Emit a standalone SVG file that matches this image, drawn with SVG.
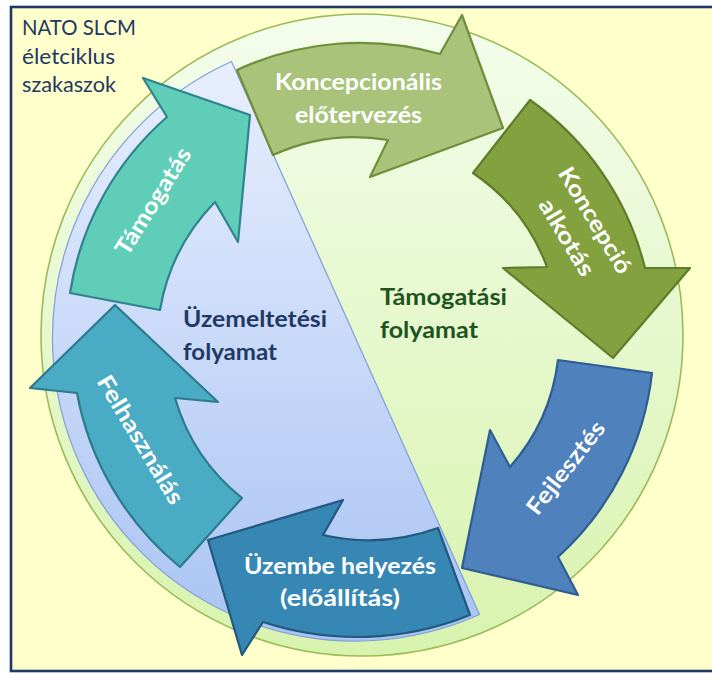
<svg xmlns="http://www.w3.org/2000/svg" width="712" height="673" viewBox="0 0 712 673">
  <defs>
    <linearGradient id="ringFill" x1="0" y1="0" x2="0" y2="1">
      <stop offset="0" stop-color="#F4FDEC"/>
      <stop offset="1" stop-color="#D8F3AE"/>
    </linearGradient>
    <linearGradient id="opsFill" x1="0" y1="0" x2="0" y2="1">
      <stop offset="0" stop-color="#E8EFFE"/>
      <stop offset="1" stop-color="#A9C3F3"/>
    </linearGradient>
  </defs>
  <style>
    .arrow { stroke-width: 2.2; stroke-linejoin: round; }
    .label { font-family: "Lato", "Liberation Sans", sans-serif; font-weight: bold; font-size: 23px; fill: #FFFFFF; text-anchor: middle; }
    .title { font-family: "Lato", "Liberation Sans", sans-serif; font-size: 21px; fill: #1F3864; }
    .phase { font-family: "Lato", "Liberation Sans", sans-serif; font-weight: bold; font-size: 23px; }
  </style>

  <!-- frame -->
  <rect x="0" y="0" width="712" height="673" fill="#FFFFFF"/>
  <rect x="11" y="7" width="720" height="664" fill="#FFFFCC" stroke="#1F3864" stroke-width="2.6"/>

  <!-- life-cycle disc -->
  <g id="cycle-disc">
    <circle cx="362" cy="335" r="321" fill="url(#ringFill)" stroke="#9BBB59" stroke-width="1.6"/>
    <path id="ops-segment" d="M 231.5,61.5 A 303 303 0 0 0 479.5,614.5 Z" fill="url(#opsFill)" stroke="#7F9FD6" stroke-width="1.2"/>
  </g>

  <!-- title -->
  <g id="title">
    <text class="title" x="22" y="35" textLength="114" lengthAdjust="spacingAndGlyphs">NATO SLCM</text>
    <text class="title" x="22" y="64" textLength="93" lengthAdjust="spacingAndGlyphs">életciklus</text>
    <text class="title" x="22" y="92" textLength="94" lengthAdjust="spacingAndGlyphs">szakaszok</text>
  </g>

  <!-- process labels -->
  <g id="ops-process">
    <text class="phase" x="183" y="327" fill="#1F3864" textLength="144" lengthAdjust="spacingAndGlyphs">Üzemeltetési</text>
    <text class="phase" x="183" y="360" fill="#1F3864" textLength="94" lengthAdjust="spacingAndGlyphs">folyamat</text>
  </g>
  <g id="support-process">
    <text class="phase" x="380" y="305" fill="#1D5420" textLength="127" lengthAdjust="spacingAndGlyphs">Támogatási</text>
    <text class="phase" x="380" y="338" fill="#1D5420" textLength="98" lengthAdjust="spacingAndGlyphs">folyamat</text>
  </g>

  <!-- stages -->
  <g id="stage-koncepcionalis">
    <path class="arrow" d="M 237,70 A 292 292 0 0 1 440,54 L 462,15 L 503,128 L 370,177 L 388,140 A 197 197 0 0 0 273,155 Z" fill="#A9C47A" stroke="#6F8E3A"/>
    <text class="label" x="358.5" y="90" textLength="167" lengthAdjust="spacingAndGlyphs">Koncepcionális</text>
    <text class="label" x="358.5" y="123" textLength="127" lengthAdjust="spacingAndGlyphs">előtervezés</text>
  </g>

  <g id="stage-koncepcio-alkotas">
    <path class="arrow" d="M 530,100 A 290 290 0 0 1 645,268 L 690,268 L 613,358 L 503,268 L 547,267 A 197 197 0 0 0 473,173 Z" fill="#83A23F" stroke="#5F7C2A"/>
    <g transform="translate(580.5,229) rotate(59)">
      <text class="label" x="0" y="-9" textLength="120" lengthAdjust="spacingAndGlyphs">Koncepció</text>
      <text class="label" x="0" y="24" textLength="86" lengthAdjust="spacingAndGlyphs">alkotás</text>
    </g>
  </g>

  <g id="stage-fejlesztes">
    <path class="arrow" d="M 652,373 A 292 292 0 0 1 558,557 L 578,595 L 462,568 L 490,430 L 510,467 A 198 198 0 0 0 558,360 Z" fill="#4F81BD" stroke="#2E5D92"/>
    <text class="label" transform="translate(566,468) rotate(-52)" x="0" y="7.5" textLength="112" lengthAdjust="spacingAndGlyphs">Fejlesztés</text>
  </g>

  <g id="stage-uzembe-helyezes">
    <path class="arrow" d="M 438,528 L 470,615 A 302 302 0 0 1 263,622 L 242,655 L 208,540 L 343,500 L 323,535 A 205 205 0 0 0 438,528 Z" fill="#3787B5" stroke="#22577E"/>
    <text class="label" x="340" y="574" textLength="192" lengthAdjust="spacingAndGlyphs">Üzembe helyezés</text>
    <text class="label" x="340" y="606" textLength="120" lengthAdjust="spacingAndGlyphs">(előállítás)</text>
  </g>

  <g id="stage-felhasznalas">
    <path class="arrow" d="M 180,567 L 242,498 A 199 199 0 0 1 175,398 L 218,402 L 115,305 L 30,388 L 77,393 A 293 293 0 0 0 180,567 Z" fill="#4AABC4" stroke="#2C7A8C"/>
    <text class="label" transform="translate(140,440) rotate(59)" x="0" y="7.5" textLength="146" lengthAdjust="spacingAndGlyphs">Felhasználás</text>
  </g>

  <g id="stage-tamogatas">
    <path class="arrow" d="M 70,293 L 160,310 A 203 203 0 0 1 215,202 L 238,242 L 250,115 L 143,78 L 167,117 A 293 293 0 0 0 70,293 Z" fill="#5FCDB8" stroke="#2F8290"/>
    <text class="label" transform="translate(153.5,201.5) rotate(-58)" x="0" y="7.5" textLength="122" lengthAdjust="spacingAndGlyphs">Támogatás</text>
  </g>
</svg>
